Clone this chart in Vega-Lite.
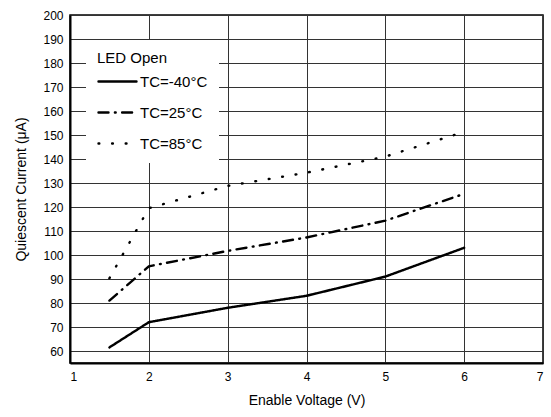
{
  "$schema": "https://vega.github.io/schema/vega-lite/v6.json",
  "autosize": {"type": "none"},
  "padding": {"left": 70, "top": 15, "right": 8, "bottom": 54},
  "width": 473,
  "height": 348,
  "background": "white",
  "config": {
    "font": "Liberation Sans",
    "view": {"stroke": "black", "strokeWidth": 1.5},
    "axis": {
      "gridColor": "#333333",
      "gridWidth": 1,
      "gridOpacity": 1,
      "domainColor": "black",
      "domainWidth": 2,
      "ticks": false,
      "labelColor": "black",
      "titleColor": "black",
      "labelFont": "Liberation Sans",
      "titleFont": "Liberation Sans",
      "labelFontSize": 12,
      "titleFontSize": 14,
      "titleFontWeight": "normal"
    }
  },
  "data": {
    "values": [
      {"V": 1.5, "I": 61.5, "T": "TC=-40°C"},
      {"V": 2, "I": 72, "T": "TC=-40°C"},
      {"V": 3, "I": 78, "T": "TC=-40°C"},
      {"V": 4, "I": 83, "T": "TC=-40°C"},
      {"V": 5, "I": 91, "T": "TC=-40°C"},
      {"V": 6, "I": 103, "T": "TC=-40°C"},
      {"V": 1.5, "I": 81, "T": "TC=25°C"},
      {"V": 2, "I": 95.3, "T": "TC=25°C"},
      {"V": 3, "I": 101.7, "T": "TC=25°C"},
      {"V": 4, "I": 107.3, "T": "TC=25°C"},
      {"V": 5, "I": 114.3, "T": "TC=25°C"},
      {"V": 6, "I": 125.5, "T": "TC=25°C"},
      {"V": 1.5, "I": 90.3, "T": "TC=85°C"},
      {"V": 2, "I": 119.5, "T": "TC=85°C"},
      {"V": 3, "I": 128.8, "T": "TC=85°C"},
      {"V": 4, "I": 134.3, "T": "TC=85°C"},
      {"V": 5, "I": 141, "T": "TC=85°C"},
      {"V": 6, "I": 151.3, "T": "TC=85°C"}
    ]
  },
  "mark": {"type": "line", "color": "black", "strokeWidth": 2.4, "strokeCap": "round", "clip": true},
  "encoding": {
    "x": {
      "field": "V",
      "type": "quantitative",
      "scale": {"domain": [1, 7], "nice": false, "zero": false},
      "axis": {"title": "Enable Voltage (V)", "values": [1, 2, 3, 4, 5, 6, 7], "labelPadding": 8, "titlePadding": 11}
    },
    "y": {
      "field": "I",
      "type": "quantitative",
      "scale": {"domain": [55, 200], "nice": false, "zero": false},
      "axis": {
        "title": "Quiescent Current (μA)",
        "values": [60, 70, 80, 90, 100, 110, 120, 130, 140, 150, 160, 170, 180, 190, 200],
        "labelPadding": 7,
        "titlePadding": 14
      }
    },
    "strokeDash": {
      "field": "T",
      "type": "nominal",
      "scale": {
        "domain": ["TC=-40°C", "TC=25°C", "TC=85°C"],
        "range": [[1, 0], [10, 6.4, 0.8, 6.4], [0.8, 12.8]]
      },
      "legend": {
        "title": "LED Open",
        "orient": "none",
        "legendX": 16,
        "legendY": 25,
        "padding": 11,
        "fillColor": "white",
        "strokeColor": null,
        "titleFontSize": 15,
        "titleFontWeight": "normal",
        "titleColor": "black",
        "titleFont": "Liberation Sans",
        "titlePadding": -5,
        "labelFontSize": 15,
        "labelColor": "black",
        "labelFont": "Liberation Sans",
        "labelOffset": 2,
        "symbolType": "stroke",
        "symbolSize": 1444,
        "symbolStrokeWidth": 2.4,
        "symbolStrokeColor": "black",
        "rowPadding": 2,
        "encode": {"symbols": {"update": {"strokeCap": {"value": "round"}}}}
      }
    }
  }
}
